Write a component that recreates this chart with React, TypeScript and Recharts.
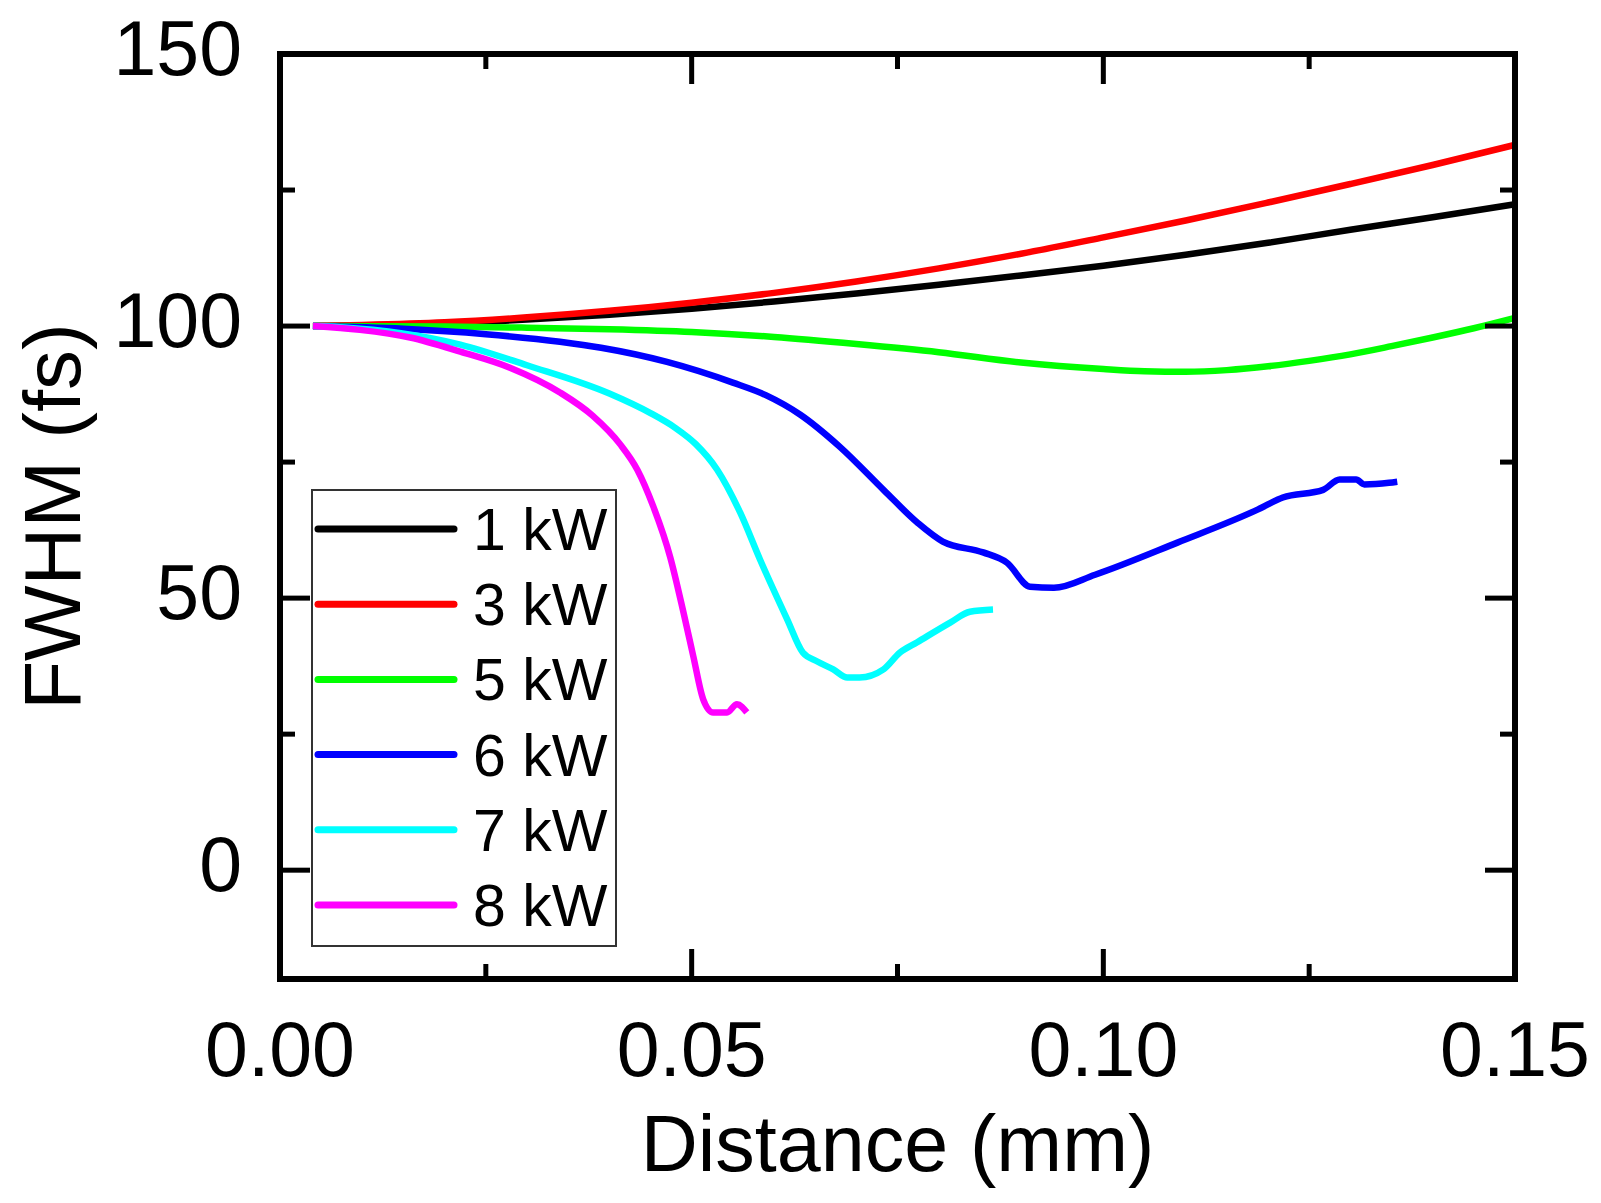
import React from "react";
import { LineChart, Line, XAxis, YAxis, Legend } from "recharts";

type Pt = { x: number; y: number };

// tick values
const X_TICKS = [0, 0.025, 0.05, 0.075, 0.1, 0.125, 0.15];
const Y_TICKS = [0, 25, 50, 75, 100, 125, 150];

// FWHM (fs) vs distance (mm)
const kw1: Pt[] = [
  { x: 0.004, y: 100 }, { x: 0.01, y: 100.1 }, { x: 0.02, y: 100.5 },
  { x: 0.03, y: 101.2 }, { x: 0.04, y: 102.1 }, { x: 0.05, y: 103.2 },
  { x: 0.06, y: 104.5 }, { x: 0.07, y: 106.0 }, { x: 0.08, y: 107.6 },
  { x: 0.09, y: 109.3 }, { x: 0.1, y: 111.1 }, { x: 0.11, y: 113.1 },
  { x: 0.12, y: 115.3 }, { x: 0.13, y: 117.7 }, { x: 0.14, y: 120.0 },
  { x: 0.15, y: 122.4 },
];

const kw3: Pt[] = [
  { x: 0.004, y: 100 }, { x: 0.01, y: 100.2 }, { x: 0.02, y: 100.7 },
  { x: 0.03, y: 101.6 }, { x: 0.04, y: 102.8 }, { x: 0.05, y: 104.3 },
  { x: 0.06, y: 106.1 }, { x: 0.07, y: 108.2 }, { x: 0.08, y: 110.6 },
  { x: 0.09, y: 113.3 }, { x: 0.1, y: 116.3 }, { x: 0.11, y: 119.4 },
  { x: 0.12, y: 122.7 }, { x: 0.13, y: 126.1 }, { x: 0.14, y: 129.6 },
  { x: 0.15, y: 133.3 },
];

const kw5: Pt[] = [
  { x: 0.004, y: 100 }, { x: 0.02, y: 99.9 }, { x: 0.03, y: 99.7 },
  { x: 0.04, y: 99.4 }, { x: 0.05, y: 98.9 }, { x: 0.06, y: 98.0 },
  { x: 0.07, y: 96.7 }, { x: 0.08, y: 95.2 }, { x: 0.09, y: 93.3 },
  { x: 0.1, y: 92.1 }, { x: 0.105, y: 91.7 }, { x: 0.11, y: 91.6 },
  { x: 0.115, y: 91.9 }, { x: 0.12, y: 92.6 }, { x: 0.125, y: 93.6 },
  { x: 0.13, y: 94.8 }, { x: 0.135, y: 96.3 }, { x: 0.14, y: 97.9 },
  { x: 0.145, y: 99.6 }, { x: 0.15, y: 101.5 },
];

const kw6: Pt[] = [
  { x: 0.004, y: 100 }, { x: 0.015, y: 99.5 }, { x: 0.025, y: 98.5 },
  { x: 0.034, y: 97.1 }, { x: 0.039, y: 96.0 }, { x: 0.047, y: 93.4 },
  { x: 0.055, y: 89.6 }, { x: 0.059, y: 87.3 }, { x: 0.0632, y: 83.7 },
  { x: 0.068, y: 77.8 }, { x: 0.0733, y: 69.9 }, { x: 0.0774, y: 63.9 },
  { x: 0.0805, y: 60.4 }, { x: 0.0854, y: 58.4 }, { x: 0.0883, y: 56.5 },
  { x: 0.0911, y: 52.1 }, { x: 0.094, y: 51.9 }, { x: 0.099, y: 54.3 },
  { x: 0.109, y: 60.2 }, { x: 0.1188, y: 66.3 }, { x: 0.1218, y: 68.5 },
  { x: 0.1267, y: 69.9 }, { x: 0.1287, y: 71.8 }, { x: 0.1307, y: 71.8 },
  { x: 0.1317, y: 70.9 }, { x: 0.1347, y: 71.2 }, { x: 0.1357, y: 71.4 },
];

const kw7: Pt[] = [
  { x: 0.004, y: 100 }, { x: 0.0073, y: 99.8 }, { x: 0.0219, y: 96.6 },
  { x: 0.03, y: 92.8 }, { x: 0.04, y: 87.6 }, { x: 0.045, y: 84.0 },
  { x: 0.048, y: 81.3 }, { x: 0.0505, y: 78.3 }, { x: 0.0531, y: 73.6 },
  { x: 0.0559, y: 65.7 }, { x: 0.0583, y: 57.1 }, { x: 0.0616, y: 46.1 },
  { x: 0.0635, y: 40.0 }, { x: 0.0652, y: 38.4 }, { x: 0.0672, y: 36.9 },
  { x: 0.0689, y: 35.4 }, { x: 0.0704, y: 35.4 }, { x: 0.0733, y: 36.9 },
  { x: 0.0753, y: 40.0 }, { x: 0.0774, y: 41.9 }, { x: 0.0814, y: 45.5 },
  { x: 0.0838, y: 47.5 }, { x: 0.0866, y: 47.9 },
];

const kw8: Pt[] = [
  { x: 0.004, y: 100 }, { x: 0.0097, y: 99.3 }, { x: 0.0158, y: 97.9 },
  { x: 0.0219, y: 95.3 }, { x: 0.028, y: 92.3 }, { x: 0.034, y: 87.8 },
  { x: 0.038, y: 83.5 }, { x: 0.0413, y: 78.3 }, { x: 0.0434, y: 73.6 },
  { x: 0.0453, y: 67.0 }, { x: 0.0474, y: 57.5 }, { x: 0.049, y: 47.4 },
  { x: 0.0502, y: 39.3 }, { x: 0.0514, y: 31.4 }, { x: 0.0526, y: 29.0 },
  { x: 0.0543, y: 29.0 }, { x: 0.0555, y: 30.5 }, { x: 0.0567, y: 29.0 },
];

const SERIES = [
  { name: "1 kW", data: kw1, color: "#000000" },
  { name: "3 kW", data: kw3, color: "#ff0000" },
  { name: "5 kW", data: kw5, color: "#00ff00" },
  { name: "6 kW", data: kw6, color: "#0000ff" },
  { name: "7 kW", data: kw7, color: "#00ffff" },
  { name: "8 kW", data: kw8, color: "#ff00ff" },
];

const FONT = '"Liberation Sans", Arial, sans-serif';
const MAJOR = 30;
const MINOR = 15;

const isMajor = (v: number, step: number) =>
  Math.abs(v / step - Math.round(v / step)) < 1e-6;

const BottomTick = (props: any) => {
  const { x, y, payload } = props;
  const major = isMajor(payload.value, 0.05);
  return (
    <g>
      <line x1={x} y1={y} x2={x} y2={y - (major ? MAJOR : MINOR)} stroke="#000" strokeWidth={5} />
      {major && (
        <text x={x} y={y + 97} textAnchor="middle" fontSize={77} fontFamily={FONT} fill="#000">
          {payload.value.toFixed(2)}
        </text>
      )}
    </g>
  );
};

const TopTick = (props: any) => {
  const { x, y, payload } = props;
  const major = isMajor(payload.value, 0.05);
  return <line x1={x} y1={y} x2={x} y2={y + (major ? MAJOR : MINOR)} stroke="#000" strokeWidth={5} />;
};

const LeftTick = (props: any) => {
  const { x, y, payload } = props;
  const major = isMajor(payload.value, 50);
  return (
    <g>
      <line x1={x} y1={y} x2={x + (major ? MAJOR : MINOR)} y2={y} stroke="#000" strokeWidth={5} />
      {major && (
        <text x={x - 38} y={y + 21} textAnchor="end" fontSize={77} fontFamily={FONT} fill="#000">
          {payload.value}
        </text>
      )}
    </g>
  );
};

const RightTick = (props: any) => {
  const { x, y, payload } = props;
  const major = isMajor(payload.value, 50);
  return <line x1={x} y1={y} x2={x - (major ? MAJOR : MINOR)} y2={y} stroke="#000" strokeWidth={5} />;
};

const LegendBox = (props: any) => {
  const { payload = [] } = props;
  return (
    <svg width={306} height={458} style={{ display: "block" }}>
      <rect x={1} y={1} width={304} height={456} fill="#fff" stroke="#333" strokeWidth={2} />
      {payload.map((entry: any, i: number) => {
        const cy = 40 + i * 75.2;
        return (
          <g key={entry.value}>
            <line x1={7} x2={143} y1={cy} y2={cy} stroke={entry.color} strokeWidth={7} strokeLinecap="round" />
            <text x={162} y={cy + 21} fontSize={59} fontFamily={FONT} fill="#000">
              {entry.value}
            </text>
          </g>
        );
      })}
    </svg>
  );
};

const frame = { stroke: "#000", strokeWidth: 6, strokeLinecap: "square" as const };

export default function App() {
  return (
    <div style={{ position: "absolute", left: 0, top: 0, background: "#fff", fontFamily: FONT }}>
      <LineChart
        width={1601}
        height={1203}
        margin={{ top: 44, right: 76, bottom: 24, left: 40 }}
      >
        <XAxis
          dataKey="x"
          type="number"
          domain={[0, 0.15]}
          ticks={X_TICKS}
          interval={0}
          allowDataOverflow
          height={200}
          tickSize={0}
          tickMargin={0}
          tickLine={false}
          axisLine={frame}
          tick={BottomTick}
          label={{
            value: "Distance (mm)",
            position: "insideBottom",
            offset: 8,
            fontSize: 79,
            fill: "#000",
            fontFamily: FONT,
          }}
        />
        <XAxis
          xAxisId="top"
          orientation="top"
          dataKey="x"
          type="number"
          domain={[0, 0.15]}
          ticks={X_TICKS}
          interval={0}
          allowDataOverflow
          height={10}
          tickSize={0}
          tickMargin={0}
          tickLine={false}
          axisLine={frame}
          tick={TopTick}
        />
        <YAxis
          type="number"
          domain={[-20, 150]}
          ticks={Y_TICKS}
          interval={0}
          allowDataOverflow
          width={240}
          tickSize={0}
          tickMargin={0}
          tickLine={false}
          axisLine={frame}
          tick={LeftTick}
          label={{
            value: "FWHM (fs)",
            angle: -90,
            position: "insideLeft",
            offset: 12,
            fontSize: 80,
            fill: "#000",
            fontFamily: FONT,
            style: { textAnchor: "middle" },
          }}
        />
        <YAxis
          yAxisId="right"
          orientation="right"
          type="number"
          domain={[-20, 150]}
          ticks={Y_TICKS}
          interval={0}
          allowDataOverflow
          width={10}
          tickSize={0}
          tickMargin={0}
          tickLine={false}
          axisLine={frame}
          tick={RightTick}
        />
        <Legend
          layout="horizontal"
          align="center"
          verticalAlign="middle"
          content={LegendBox}
          wrapperStyle={{ left: 311, top: 489, width: 306, height: 458 }}
        />
        {SERIES.map((s) => (
          <Line
            key={s.name}
            name={s.name}
            data={s.data}
            dataKey="y"
            type="monotone"
            stroke={s.color}
            strokeWidth={6.5}
            dot={false}
            activeDot={false}
            isAnimationActive={false}
          />
        ))}
      </LineChart>
    </div>
  );
}
